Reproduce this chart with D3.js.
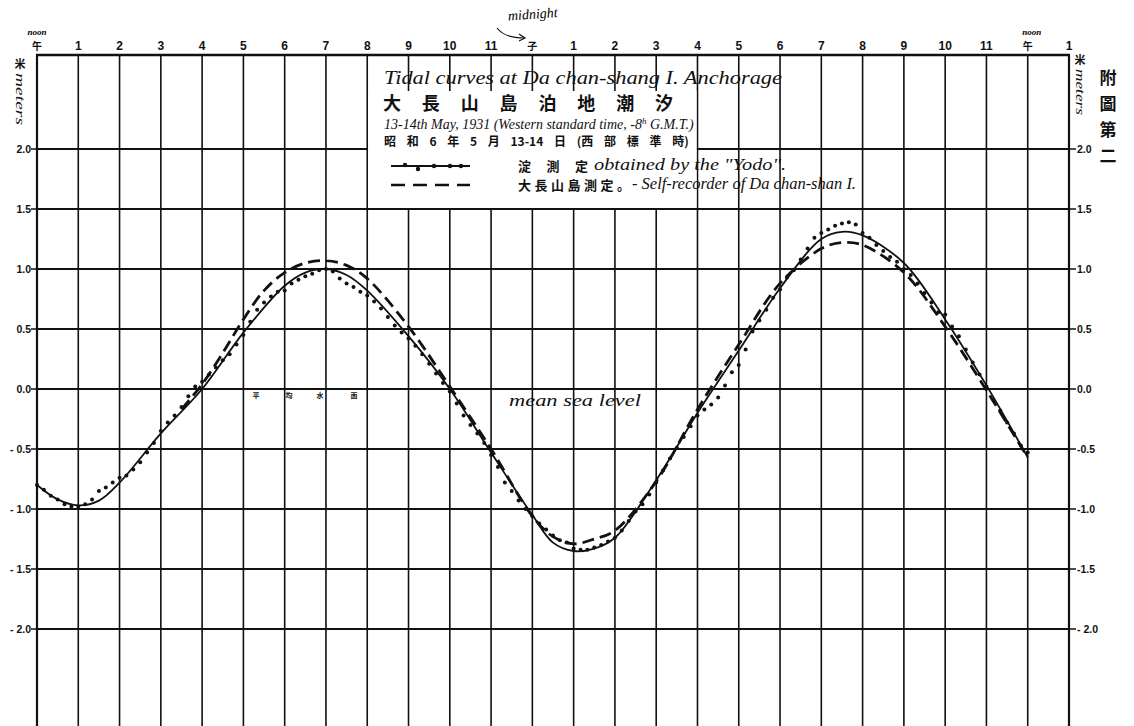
<!DOCTYPE html>
<html>
<head>
<meta charset="utf-8">
<script src="https://cdn.jsdelivr.net/npm/d3@7"></script>
<style>
	body { margin: 0; background: #fff; }
	svg { display: block; }
	.hand { font-family: "Liberation Serif", "DejaVu Serif", serif; font-style: italic; }
	.cjk { font-family: "Noto Sans CJK JP", "Noto Sans CJK TC", sans-serif; font-weight: 700; }
	.num { font-family: "Liberation Sans", "DejaVu Sans", sans-serif; font-weight: 700; }
</style>
</head>
<body>
<div id="chart"></div>
<script>
// hours counted from noon of the 13th (0) to 1 p.m. of the 14th (25)
const hourLabels = ['午', '1', '2', '3', '4', '5', '6', '7', '8', '9', '10', '11', '子',
	'1', '2', '3', '4', '5', '6', '7', '8', '9', '10', '11', '午', '1'];
const levelTicks = [2.0, 1.5, 1.0, 0.5, 0.0, -0.5, -1.0, -1.5, -2.0];
const leftTickLabels = ['2.0', '1.5', '1.0', '0.5', '0.0', '- 0.5', '- 1.0', '- 1.5', '- 2.0'];
const rightTickLabels = ['2.0', '1.5', '1.0', '0.5', '0.0', '-0.5', '-1.0', '-1.5', '- 2.0'];

// smoothed curve (solid)
const solidHours = [0, 0.5, 1, 1.5, 2, 3, 4, 5, 6, 6.5, 7, 7.5, 8, 9, 10, 11, 12, 12.5, 13, 13.5, 14,
	15, 16, 17, 18, 19, 19.5, 20, 21, 22, 23, 24];
const solidValues = [-0.80, -0.92, -0.97, -0.93, -0.78, -0.37, 0.00, 0.47, 0.86, 0.97, 1.00, 0.95, 0.82,
	0.44, 0.00, -0.53, -1.05, -1.28, -1.35, -1.33, -1.24, -0.76, -0.20, 0.32, 0.84, 1.25, 1.31, 1.28,
	1.05, 0.58, 0.03, -0.57];

// self-recorder of Da chan-shan I. (dashed)
const dashHours = [3.5, 4, 4.5, 5, 5.5, 6, 6.5, 7, 7.5, 8, 9, 10, 11, 12, 12.5, 13, 13.5, 14, 15, 16,
	17, 18, 19, 19.5, 20, 21, 22, 23, 24];
const dashValues = [-0.17, 0.04, 0.30, 0.58, 0.82, 0.97, 1.05, 1.07, 1.03, 0.92, 0.52, 0.02, -0.50, -1.06,
	-1.23, -1.29, -1.25, -1.18, -0.77, -0.17, 0.37, 0.88, 1.17, 1.22, 1.20, 0.97, 0.52, -0.01, -0.57];

// readings by the "Yodo", every 10 minutes, one row per hour
const yodoReadings = [
	[-0.80, -0.84, -0.89, -0.92, -0.96, -0.98],
	[-0.98, -0.96, -0.92, -0.85, -0.82, -0.78],
	[-0.74, -0.72, -0.67, -0.61, -0.53, -0.45],
	[-0.35, -0.28, -0.22, -0.15, -0.06, 0.02],
	[0.06, 0.12, 0.18, 0.24, 0.29, 0.37],
	[0.45, 0.56, 0.66, 0.72, 0.77, 0.81],
	[0.82, 0.88, 0.91, 0.94, 0.96, 0.99],
	[1.00, 0.98, 0.92, 0.88, 0.85, 0.81],
	[0.78, 0.73, 0.67, 0.60, 0.53, 0.47],
	[0.42, 0.36, 0.29, 0.21, 0.13, 0.05],
	[-0.02, -0.12, -0.22, -0.30, -0.37, -0.45],
	[-0.55, -0.65, -0.78, -0.85, -0.93, -1.00],
	[-1.06, -1.12, -1.17, -1.22, -1.26, -1.28],
	[-1.33, -1.34, -1.34, -1.32, -1.30, -1.27],
	[-1.24, -1.18, -1.10, -1.02, -0.96, -0.88],
	[-0.78, -0.68, -0.58, -0.49, -0.40, -0.31],
	[-0.22, -0.17, -0.13, -0.07, 0.03, 0.14],
	[0.20, 0.33, 0.48, 0.57, 0.66, 0.76],
	[0.83, 0.93, 0.99, 1.08, 1.17, 1.26],
	[1.30, 1.33, 1.36, 1.38, 1.39, 1.37],
	[1.30, 1.26, 1.20, 1.15, 1.10, 1.06],
	[1.00, 0.95, 0.88, 0.80, 0.72, 0.64],
	[0.62, 0.52, 0.44, 0.33, 0.22, 0.12],
	[0.02, -0.09, -0.18, -0.28, -0.37, -0.47],
	[-0.53]
];

const width = 1134;
const height = 726;

const x = d3.scaleLinear().domain([0, 25]).range([37, 1069]);
const y = d3.scaleLinear().domain([-2, 2]).range([629, 149]);
const top_y = 55;
const bottom_y = 726;

const svg = d3.select('#chart')
	.append('svg')
	.attr('width', width)
	.attr('height', height);

const ink = '#111';

// vertical hour lines
svg.append('g')
	.selectAll('line')
	.data(d3.range(hourLabels.length))
	.join('line')
	.attr('x1', d => x(d))
	.attr('x2', d => x(d))
	.attr('y1', top_y)
	.attr('y2', bottom_y)
	.attr('stroke', ink)
	.attr('stroke-width', d => (d == 0 || d == 25) ? 2.2 : 1.6);

// horizontal level lines
svg.append('g')
	.selectAll('line')
	.data(levelTicks)
	.join('line')
	.attr('x1', x(0))
	.attr('x2', x(25))
	.attr('y1', d => y(d))
	.attr('y2', d => y(d))
	.attr('stroke', ink)
	.attr('stroke-width', 1.8);

// top edge
svg.append('line')
	.attr('x1', x(0) - 1).attr('x2', x(25) + 1)
	.attr('y1', top_y).attr('y2', top_y)
	.attr('stroke', ink).attr('stroke-width', 2.6);

// left / right tick labels
const ticks = svg.append('g').attr('class', 'num').attr('font-size', 10.5).attr('fill', ink);
levelTicks.forEach((v, i) => {
	ticks.append('line')
		.attr('x1', x(0) - 6).attr('x2', x(0))
		.attr('y1', y(v)).attr('y2', y(v))
		.attr('stroke', ink).attr('stroke-width', 1.5);
	ticks.append('text')
		.attr('x', x(0) - 6)
		.attr('y', y(v) + 4)
		.attr('text-anchor', 'end')
		.text(leftTickLabels[i]);
	ticks.append('line')
		.attr('x1', x(25)).attr('x2', x(25) + 7)
		.attr('y1', y(v)).attr('y2', y(v))
		.attr('stroke', ink).attr('stroke-width', 1.5);
	ticks.append('text')
		.attr('x', x(25) + 8)
		.attr('y', y(v) + 4)
		.attr('text-anchor', 'start')
		.text(rightTickLabels[i]);
});

// hour labels along the top
svg.append('g')
	.selectAll('text')
	.data(hourLabels)
	.join('text')
	.attr('class', (d, i) => /\d/.test(d) ? 'num' : 'cjk')
	.attr('x', (d, i) => x(i))
	.attr('y', 50)
	.attr('text-anchor', 'middle')
	.attr('font-size', (d) => /\d/.test(d) ? 12 : 10)
	.attr('fill', ink)
	.text(d => d);

// noon / midnight notes
svg.append('text').attr('class', 'hand').attr('x', x(0)).attr('y', 35)
	.attr('text-anchor', 'middle').attr('font-size', 9).attr('font-weight', 700).text('noon');
svg.append('text').attr('class', 'hand').attr('x', x(24) + 4).attr('y', 35)
	.attr('text-anchor', 'middle').attr('font-size', 9).attr('font-weight', 700).text('noon');
svg.append('text').attr('class', 'hand')
	.attr('x', 508).attr('y', 19)
	.attr('font-size', 14)
	.attr('transform', 'rotate(-4 530 16)')
	.text('midnight');
svg.append('path')
	.attr('d', 'M497,28 C503,36 512,38 524,38')
	.attr('fill', 'none').attr('stroke', ink).attr('stroke-width', 1.2);
svg.append('path')
	.attr('d', 'M519,34 L525,38 L519,41')
	.attr('fill', 'none').attr('stroke', ink).attr('stroke-width', 1.2);

// unit labels
function unitLabel(cx, topY, len) {
	svg.append('text').attr('class', 'cjk')
		.attr('x', cx).attr('y', topY + 9)
		.attr('text-anchor', 'middle').attr('font-size', 11).attr('fill', ink)
		.text('米');
	svg.append('text').attr('class', 'hand')
		.attr('transform', `translate(${cx - 4},${topY + 14}) rotate(90)`)
		.attr('font-size', 13).attr('fill', ink)
		.attr('textLength', len).attr('lengthAdjust', 'spacingAndGlyphs')
		.text('meters');
}
unitLabel(20, 59, 52);
unitLabel(1080, 55, 46);

// plate number
const plate = ['附', '圖', '第', '二'];
svg.append('g')
	.selectAll('text')
	.data(plate)
	.join('text')
	.attr('class', 'cjk')
	.attr('x', 1108)
	.attr('y', (d, i) => 84 + i * 26)
	.attr('text-anchor', 'middle')
	.attr('font-size', 17)
	.attr('font-weight', 400)
	.attr('fill', ink)
	.text(d => d);

// legend box covers the grid between 8 p.m. and 4 a.m.
svg.append('rect')
	.attr('x', x(8) + 1)
	.attr('y', 91)
	.attr('width', x(16) - x(8) - 2)
	.attr('height', y(1.5) - 92)
	.attr('fill', '#fff');
svg.append('rect')
	.attr('x', x(8) + 1)
	.attr('y', y(2.0) - 1)
	.attr('width', x(16) - x(8) - 2)
	.attr('height', 3)
	.attr('fill', '#fff');

const title = svg.append('g').attr('fill', ink);
title.append('text').attr('class', 'hand')
	.attr('x', 384).attr('y', 84)
	.attr('font-size', 19)
	.attr('textLength', 398).attr('lengthAdjust', 'spacingAndGlyphs')
	.text('Tidal curves at Da chan-shang I. Anchorage');
title.append('text').attr('class', 'cjk')
	.attr('x', 383).attr('y', 110)
	.attr('font-size', 18)
	.attr('textLength', 290).attr('lengthAdjust', 'spacing')
	.text('大長山島泊地潮汐');
const dateLine = title.append('text').attr('class', 'hand')
	.attr('x', 384).attr('y', 129)
	.attr('font-size', 14);
dateLine.append('tspan').text('13-14th May, 1931 (Western standard time, -8');
dateLine.append('tspan').attr('font-size', 9).attr('dy', -5).text('h');
dateLine.append('tspan').attr('dy', 5).text(' G.M.T.)');
title.append('text').attr('class', 'cjk')
	.attr('x', 384).attr('y', 146)
	.attr('font-size', 12)
	.attr('word-spacing', 8)
	.text('昭 和 6 年 5 月 13-14 日 (西 部 標 準 時)');

// legend samples
svg.append('line')
	.attr('x1', 391).attr('x2', 470).attr('y1', 166).attr('y2', 166)
	.attr('stroke', ink).attr('stroke-width', 1.8);
svg.append('g')
	.selectAll('circle')
	.data([[405, 165], [418, 169], [434, 166], [450, 166], [461, 166]])
	.join('circle')
	.attr('cx', d => d[0]).attr('cy', d => d[1]).attr('r', 2.2).attr('fill', ink);
svg.append('line')
	.attr('x1', 391).attr('x2', 470).attr('y1', 185).attr('y2', 185)
	.attr('stroke', ink).attr('stroke-width', 2.6)
	.attr('stroke-dasharray', '14,8');

title.append('text').attr('class', 'cjk')
	.attr('x', 518).attr('y', 171).attr('font-size', 13)
	.attr('textLength', 70).attr('lengthAdjust', 'spacing')
	.text('淀測定');
title.append('text').attr('class', 'hand')
	.attr('x', 594).attr('y', 170).attr('font-size', 16)
	.attr('textLength', 192).attr('lengthAdjust', 'spacingAndGlyphs')
	.text('obtained by the "Yodo".');
title.append('text').attr('class', 'cjk')
	.attr('x', 518).attr('y', 190).attr('font-size', 13)
	.attr('textLength', 112).attr('lengthAdjust', 'spacing')
	.text('大長山島測定。');
title.append('text').attr('class', 'hand')
	.attr('x', 632).attr('y', 189).attr('font-size', 16)
	.attr('textLength', 224).attr('lengthAdjust', 'spacingAndGlyphs')
	.text('- Self-recorder of Da chan-shan I.');

// mean sea level notes
svg.append('text').attr('class', 'hand')
	.attr('x', 509).attr('y', 406).attr('font-size', 17)
	.attr('textLength', 132).attr('lengthAdjust', 'spacingAndGlyphs')
	.attr('fill', ink)
	.text('mean sea level');
svg.append('g')
	.selectAll('text')
	.data(['平', '均', '水', '面'])
	.join('text')
	.attr('class', 'cjk')
	.attr('x', (d, i) => [256, 289, 320, 354][i])
	.attr('y', 398)
	.attr('text-anchor', 'middle')
	.attr('font-size', 7)
	.attr('fill', ink)
	.text(d => d);

// curves
const line = d3.line()
	.x(d => x(d[0]))
	.y(d => y(d[1]))
	.curve(d3.curveCatmullRom.alpha(0.5));

const dashed = dashHours.map((h, i) => [h, dashValues[i]]);
svg.append('path')
	.datum(dashed)
	.attr('d', line)
	.attr('fill', 'none')
	.attr('stroke', ink)
	.attr('stroke-width', 2.8)
	.attr('stroke-dasharray', '12,6');

const solid = solidHours.map((h, i) => [h, solidValues[i]]);
svg.append('path')
	.datum(solid)
	.attr('d', line)
	.attr('fill', 'none')
	.attr('stroke', ink)
	.attr('stroke-width', 1.8);

const yodo = [];
yodoReadings.forEach((row, hour) => {
	row.forEach((v, k) => {
		yodo.push([hour + k / 6, v]);
	});
});
svg.append('g')
	.selectAll('circle')
	.data(yodo)
	.join('circle')
	.attr('cx', d => x(d[0]))
	.attr('cy', d => y(d[1]))
	.attr('r', 2)
	.attr('fill', ink);
</script>
</body>
</html>
